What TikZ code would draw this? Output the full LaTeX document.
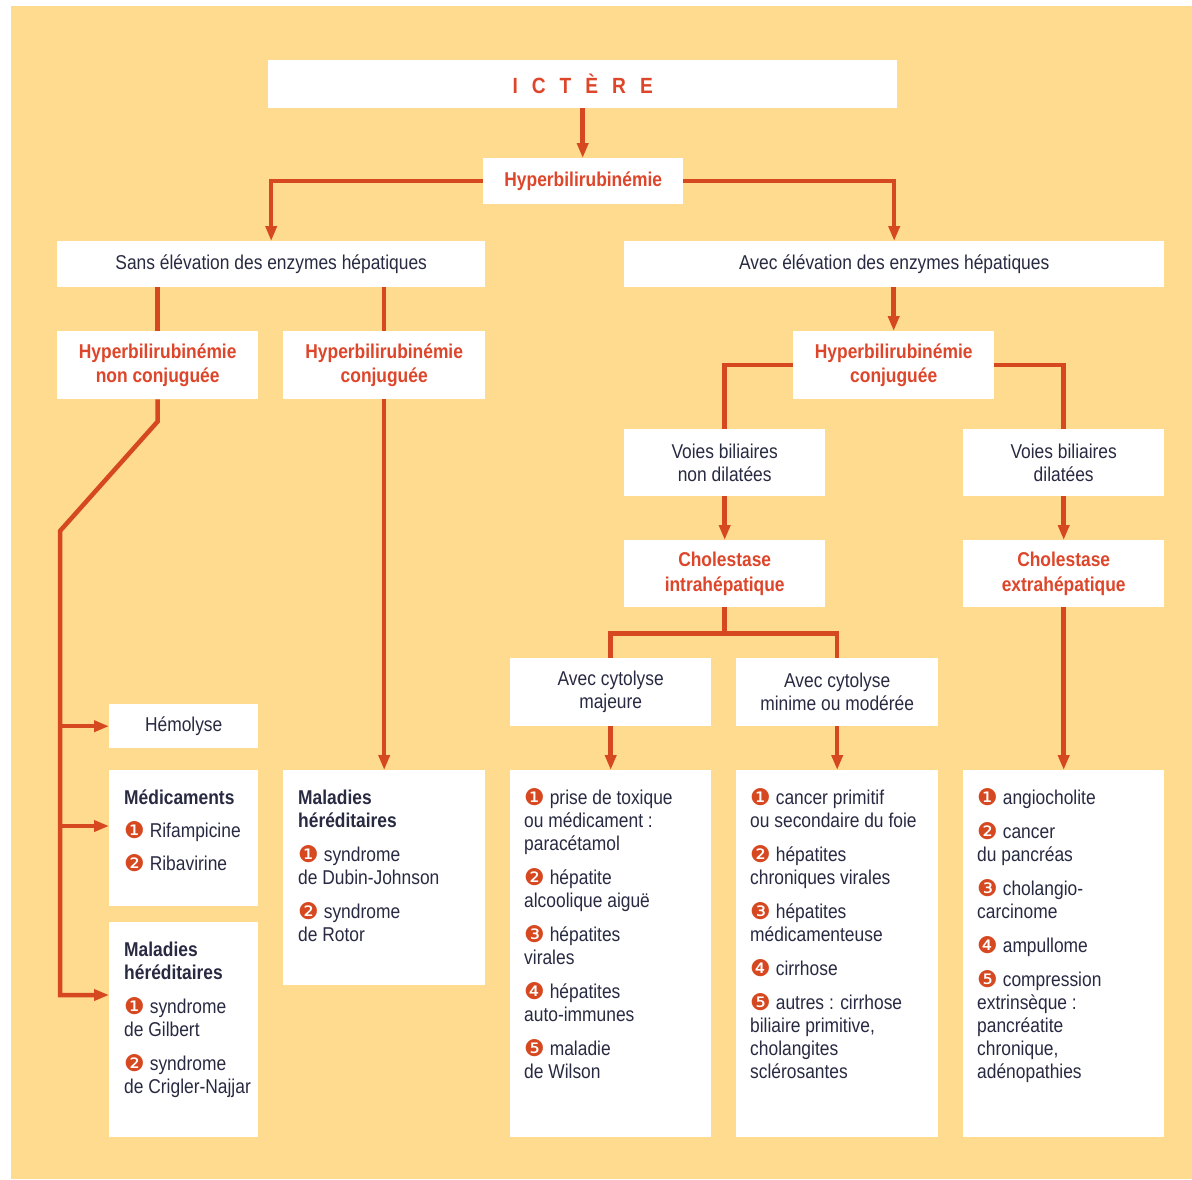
\documentclass[tikz,border=0pt]{standalone}
\usepackage{fontspec}
\setmainfont[FakeStretch=0.87]{Liberation Sans}
\newfontfamily\dv{DejaVu Sans}
\usetikzlibrary{arrows.meta}
\definecolor{bg}{RGB}{254,219,143}
\definecolor{lc}{RGB}{214,72,32}
\definecolor{tc}{RGB}{221,70,42}
\definecolor{dk}{RGB}{40,42,66}
\newcommand\nb[1]{{\color{lc}\fontsize{23}{23}\dv\raisebox{-1pt}{#1}}\hspace{5pt}}
\tikzset{
  box/.style={fill=white, draw=none, inner sep=0pt, anchor=north west, align=center},
  hd/.style={box, text=tc, font=\fontsize{20}{24.5}\selectfont\bfseries},
  lb/.style={box, text=dk, font=\fontsize{20}{23}\selectfont},
  lst/.style={text=dk, align=left, anchor=north west, inner sep=0pt, font=\fontsize{20}{23}\selectfont},
  link/.style={draw=lc, line width=4.5pt, line join=miter},
  arr/.style={link, -{Triangle[length=15pt,width=11pt]}},
}
\begin{document}
\begin{tikzpicture}[x=1pt,y=-1pt]
\useasboundingbox (0,0) rectangle (1192,1179);
\fill[bg] (11,6) rectangle (1192,1179);

% boxes
\node[hd, minimum width=629, minimum height=48, font=\fontsize{22}{24}\selectfont\bfseries] (ict) at (268,60)
  {I\hspace{14pt}C\hspace{14pt}T\hspace{14pt}È\hspace{14pt}R\hspace{14pt}E};
\node[hd, minimum width=200, minimum height=46] (hyp) at (483,158) {Hyperbilirubinémie};
\node[lb, minimum width=428, minimum height=46] (sans) at (57,241) {Sans élévation des enzymes hépatiques};
\node[lb, minimum width=540, minimum height=46] (avec) at (624,241) {Avec élévation des enzymes hépatiques};
\node[hd, minimum width=201, minimum height=68] (hnc) at (57,331) {Hyperbilirubinémie\\non conjuguée};
\node[hd, minimum width=202, minimum height=68] (hcl) at (283,331) {Hyperbilirubinémie\\conjuguée};
\node[hd, minimum width=201, minimum height=68] (hcr) at (793,331) {Hyperbilirubinémie\\conjuguée};
\node[lb, minimum width=201, minimum height=67] (vbnd) at (624,429) {Voies biliaires\\non dilatées};
\node[lb, minimum width=201, minimum height=67] (vbd) at (963,429) {Voies biliaires\\dilatées};
\node[hd, minimum width=201, minimum height=67] (ci) at (624,540) {Cholestase\\intrahépatique};
\node[hd, minimum width=201, minimum height=67] (ce) at (963,540) {Cholestase\\extrahépatique};
\node[lb, minimum width=201, minimum height=68] (acM) at (510,658) {Avec cytolyse\\majeure};
\node[lb, minimum width=202, minimum height=68] (acm) at (736,658) {Avec cytolyse\\minime ou modérée};
\node[lb, minimum width=149, minimum height=44] (hem) at (109,704) {Hémolyse};
\node[box, minimum width=149, minimum height=136] (med) at (109,770) {};
\node[box, minimum width=149, minimum height=215] (mhl) at (109,922) {};
\node[box, minimum width=202, minimum height=215] (mhm) at (283,770) {};
\node[box, minimum width=201, minimum height=367] (l1) at (510,770) {};
\node[box, minimum width=202, minimum height=367] (l2) at (736,770) {};
\node[box, minimum width=201, minimum height=367] (l3) at (963,770) {};

% list texts
\node[lst] (medt) at (124,788) {\strut\textbf{Médicaments}\\[10pt]
  \nb{❶}Rifampicine\\[10pt]\nb{❷}Ribavirine};
\node[lst] (mhlt) at (124,940) {\strut\textbf{Maladies}\\\textbf{héréditaires}\\[11pt]
  \nb{❶}syndrome\\de Gilbert\\[11pt]\nb{❷}syndrome\\de Crigler-Najjar};
\node[lst] (mhmt) at (298,788) {\strut\textbf{Maladies}\\\textbf{héréditaires}\\[11pt]
  \nb{❶}syndrome\\de Dubin-Johnson\\[11pt]\nb{❷}syndrome\\de Rotor};
\node[lst] (l1t) at (524,788) {\strut\nb{❶}prise de toxique\\ou médicament :\\paracétamol\\[11pt]
  \nb{❷}hépatite\\alcoolique aiguë\\[11pt]\nb{❸}hépatites\\virales\\[11pt]
  \nb{❹}hépatites\\auto-immunes\\[11pt]\nb{❺}maladie\\de Wilson};
\node[lst] (l2t) at (750,788) {\strut\nb{❶}cancer primitif\\ou secondaire du foie\\[11pt]
  \nb{❷}hépatites\\chroniques virales\\[11pt]\nb{❸}hépatites\\médicamenteuse\\[11pt]
  \nb{❹}cirrhose\\[11pt]\nb{❺}autres : cirrhose\\biliaire primitive,\\cholangites\\sclérosantes};
\node[lst] (l3t) at (977,788) {\strut\nb{❶}angiocholite\\[11pt]
  \nb{❷}cancer\\du pancréas\\[11pt]\nb{❸}cholangio-\\carcinome\\[11pt]
  \nb{❹}ampullome\\[11pt]\nb{❺}compression\\extrinsèque :\\pancréatite\\chronique,\\adénopathies};

% connectors
\draw[arr] (ict.south) -- (ict.south |- hyp.north);
\draw[arr] (hyp.west) -| (sans.north);
\draw[arr] (hyp.east) -| (avec.north);
\draw[link] (sans.south -| hnc.north) -- (hnc.north);
\draw[link] (sans.south -| hcl.north) -- (hcl.north);
\draw[arr] (avec.south -| hcr.north) -- (hcr.north);
\draw[link] (hcr.west) -| (vbnd.north);
\draw[link] (hcr.east) -| (vbd.north);
\draw[arr] (vbnd.south) -- (ci.north);
\draw[arr] (vbd.south) -- (ce.north);
\draw[link] (ci.south) -- ++(0,26) coordinate (j);
\draw[link] (acM.north) |- (j) -| (acm.north);
\draw[arr] (acM.south) -- (l1.north -| acM.south);
\draw[arr] (acm.south) -- (l2.north -| acm.south);
\draw[arr] (ce.south) -- (l3.north -| ce.south);
\draw[arr] (hcl.south) -- (mhm.north -| hcl.south);
\coordinate (k1) at (60,531);
\coordinate (k3) at (60,995);
\coordinate (k2) at (60,826);
\draw[arr] (hnc.south) -- ++(0,22) -- (k1) -- (k3) -- (k3 -| mhl.west);
\draw[arr] (k1 |- hem.west) -- (hem.west);
\draw[arr] (k2) -- (k2 -| med.west);
\end{tikzpicture}
\end{document}
